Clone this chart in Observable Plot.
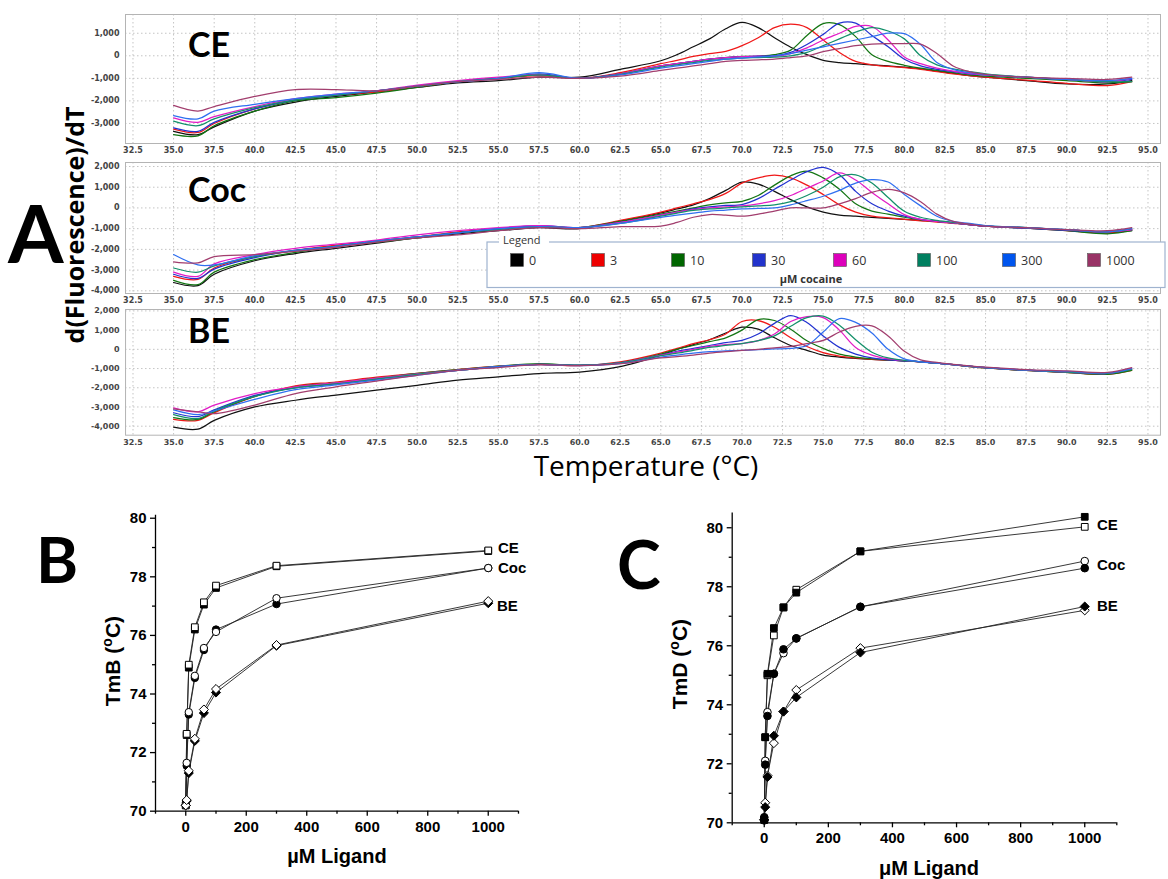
<!DOCTYPE html>
<html><head><meta charset="utf-8">
<script src="https://cdn.jsdelivr.net/npm/d3@7"></script>
<script src="https://cdn.jsdelivr.net/npm/@observablehq/plot@0.6"></script>
<style>
body{margin:0;background:#fff}
#fig{position:relative;width:1168px;height:879px;overflow:hidden;background:#fff}
#fig svg{position:absolute}
.melt g[aria-label="x-axis tick label"] text,.melt g[aria-label="y-axis tick label"] text{font-family:"DejaVu Sans";font-weight:bold;font-size:8px;fill:#444}
.tm g[aria-label="x-axis tick label"] text,.tm g[aria-label="y-axis tick label"] text{font-family:"Liberation Sans",Arial;font-weight:bold;font-size:15px;fill:#000}
</style></head><body><div id="fig"></div>
<script>
// ---------- Panel A data ----------
const T = [35, 36.5, 37.5, 40, 42.5, 45, 47.5, 50, 52.5, 55, 57.5, 60, 62.5, 65, 66, 67, 68, 69, 70, 71, 72, 73, 74, 75, 76, 77, 78, 79, 80, 81, 82, 83, 84, 85, 87.5, 90, 92.5, 94];
const concs = ["0", "3", "10", "30", "60", "100", "300", "1000"];
const concColors = ["#111111", "#f01818", "#137513", "#2232d0", "#e21cc6", "#13906a", "#2f6ff0", "#a23e6e"];
const legendColors = ["#000000", "#ee0000", "#006600", "#2233cc", "#dd00bb", "#008060", "#0055ee", "#993366"];
const xTicksA = [32.5, 35, 37.5, 40, 42.5, 45, 47.5, 50, 52.5, 55, 57.5, 60, 62.5, 65, 67.5, 70, 72.5, 75, 77.5, 80, 82.5, 85, 87.5, 90, 92.5, 95];
const yTicksCE = [1000, 0, -1000, -2000, -3000];
const yTicksCoc = [2000, 1000, 0, -1000, -2000, -3000, -4000];
const yTicksBE = [2000, 1000, 0, -1000, -2000, -3000, -4000];

const ce0 = [-3350,-3500,-3150,-2450,-2050,-1800,-1600,-1400,-1200,-1100,-950,-950, -600,-220,50,400,750,1200,1480,1250, 800,380,50,-200,-300,-350,-400,-450,-500,-580, -680,-780,-880,-950,-1100,-1250,-1250,-1100];
const ce3 = [-3250,-3400,-3000,-2350,-1950,-1750,-1600,-1380,-1150,-1000,-880,-1000, -750,-350,-200,-30,100,200,450,800, 1250,1400,1250,700,150,-250,-400,-470,-530,-600, -700,-800,-880,-950,-1080,-1220,-1320,-1150];
const ce10 = [-3500,-3550,-3100,-2450,-2000,-1850,-1650,-1400,-1150,-1000,-850,-1000, -800,-450,-350,-250,-150,-80,-30,-10, 50,250,900,1430,1380,850,50,-250,-420,-550, -650,-750,-850,-900,-1000,-1100,-1200,-1150];
const ce30 = [-3200,-3350,-2950,-2350,-1950,-1750,-1550,-1350,-1150,-1000,-800,-1000, -800,-450,-350,-250,-150,-80,-40,-20, 0,150,500,950,1450,1450,900,400,-150,-450, -600,-700,-800,-850,-950,-1050,-1150,-1050];
const ce60 = [-2750,-2950,-2700,-2250,-1900,-1700,-1550,-1300,-1100,-950,-850,-1000, -800,-450,-350,-250,-150,-80,-40,-20, -30,100,350,700,1000,1300,1300,700,-50,-350, -550,-680,-780,-850,-950,-1050,-1150,-1000];
const ce100 = [-2900,-3100,-2800,-2300,-1950,-1750,-1550,-1350,-1150,-1000,-850,-1000, -820,-500,-400,-300,-200,-150,-100,-80, -60,0,150,450,750,1050,1250,1100,750,0, -400,-580,-700,-800,-950,-1050,-1150,-1150];
const ce300 = [-2650,-2800,-2450,-2150,-1900,-1700,-1550,-1350,-1150,-1000,-750,-1000, -850,-550,-450,-350,-250,-150,-100,-50, 0,100,250,400,550,700,850,1000,980,500, -300,-600,-750,-850,-950,-1050,-1100,-1000];
const ce1000 = [-2200,-2450,-2250,-1800,-1500,-1500,-1550,-1350,-1150,-1050,-950,-1000, -900,-650,-550,-450,-350,-250,-200,-180, -150,-80,0,180,320,450,520,540,540,520, 100,-450,-700,-820,-950,-1000,-1050,-950];

const coc0 = [-3600,-3750,-3200,-2550,-2200,-1950,-1700,-1450,-1250,-1100,-950,-1000, -640,-240,-50,150,450,850,1250,1150, 800,400,50,-200,-350,-400,-450,-500,-550,-600, -650,-720,-800,-880,-950,-1080,-1200,-1100];
const coc3 = [-3300,-3450,-2900,-2350,-2050,-1800,-1600,-1400,-1150,-1000,-900,-950, -600,-200,0,200,400,700,1200,1450, 1580,1450,1100,650,150,-200,-400,-480,-550,-620, -680,-740,-800,-880,-980,-1100,-1200,-1050];
const coc10 = [-3500,-3700,-3100,-2500,-2150,-1850,-1650,-1450,-1200,-1000,-900,-950, -650,-300,-150,0,150,250,320,600, 1100,1550,1770,1450,900,200,-150,-300,-450,-580, -650,-720,-800,-880,-980,-1100,-1250,-1100];
const coc30 = [-3200,-3400,-2950,-2400,-2050,-1850,-1600,-1400,-1200,-1000,-850,-950, -700,-350,-200,-50,50,120,164,450, 900,1350,1750,1960,1600,800,200,-150,-400,-550, -650,-720,-800,-880,-980,-1080,-1150,-1050];
const coc60 = [-3100,-3300,-2700,-2250,-1950,-1750,-1550,-1300,-1100,-950,-850,-950, -700,-350,-200,-80,0,50,100,200, 350,600,950,1300,1690,1350,750,200,-320,-550, -650,-720,-800,-880,-950,-1050,-1150,-1050];
const coc100 = [-2900,-3100,-2800,-2350,-2050,-1850,-1600,-1400,-1200,-1050,-900,-950, -750,-400,-250,-120,-50,0,50,100, 150,300,600,1000,1500,1600,1200,500,-160,-450, -600,-700,-780,-860,-950,-1050,-1150,-1000];
const coc300 = [-2250,-2750,-2750,-2300,-2050,-1850,-1600,-1400,-1200,-1000,-900,-950, -750,-450,-350,-250,-150,-100,-50,-20, 0,150,350,565,850,1200,1370,1250,650,100, -400,-650,-750,-850,-950,-1050,-1150,-1000];
const coc1000 = [-2600,-2650,-2350,-2250,-2100,-1900,-1650,-1450,-1300,-1100,-950,-1000, -900,-880,-700,-450,-320,-350,-400,-300, -150,0,0,0,200,450,750,890,725,300, -300,-650,-780,-880,-950,-1050,-1100,-950];

const be0 = [-4050,-4150,-3700,-3000,-2650,-2380,-2120,-1870,-1600,-1430,-1260,-1180, -900,-300,0,250,500,850,1150,1050, 600,200,-50,-300,-400,-470,-520,-560,-600,-650, -720,-800,-880,-950,-1100,-1200,-1280,-1050];
const be3 = [-3650,-3700,-3300,-2450,-1900,-1700,-1450,-1250,-1050,-880,-800,-850, -650,-200,50,300,500,800,1450,1500, 1150,600,150,-170,-350,-450,-520,-560,-600,-650, -720,-800,-900,-970,-1100,-1200,-1300,-1100];
const be10 = [-3550,-3650,-3250,-2450,-1950,-1750,-1500,-1250,-1050,-880,-750,-830, -700,-250,0,200,400,600,1000,1550, 1500,1050,450,50,-250,-400,-500,-550,-600,-650, -720,-800,-900,-970,-1100,-1200,-1300,-1100];
const be30 = [-3300,-3500,-3150,-2400,-2000,-1800,-1550,-1300,-1100,-900,-780,-820, -700,-300,-100,50,200,350,466,800, 1350,1760,1400,700,100,-250,-450,-550,-600,-650, -720,-800,-880,-950,-1080,-1180,-1250,-1000];
const be60 = [-3050,-3250,-2900,-2300,-1950,-1750,-1500,-1280,-1080,-900,-780,-830, -700,-300,-150,0,150,250,295,450, 800,1450,1700,1650,1000,100,-300,-500,-580,-650, -720,-800,-880,-950,-1080,-1180,-1250,-1000];
const be100 = [-3400,-3600,-3200,-2450,-2000,-1800,-1550,-1300,-1100,-900,-780,-820, -700,-330,-200,-50,100,200,300,450, 700,1200,1650,1730,1250,500,-150,-450,-570,-650, -720,-800,-880,-950,-1080,-1180,-1250,-1050];
const be300 = [-3150,-3400,-3200,-2600,-2100,-1850,-1600,-1350,-1100,-900,-800,-850, -750,-400,-300,-200,-120,-80,-50,-20, 20,50,200,900,1600,1400,850,0,-500,-650, -720,-800,-880,-950,-1080,-1150,-1230,-1000];
const be1000 = [-3100,-3250,-3350,-2900,-2300,-1950,-1650,-1350,-1100,-950,-800,-850, -750,-450,-380,-300,-200,-120,-50,0, 80,150,300,466,900,1200,1220,700,-100,-550, -680,-780,-860,-930,-1050,-1120,-1200,-950];

// ---------- Panels B / C data ----------
const ligandConc = [0, 3, 10, 30, 60, 100, 300, 1000];
const bCEfilled = [70.2, 72.6, 74.9, 76.2, 77.05, 77.62, 78.36, 78.88];
const bCEopen = [70.2, 72.64, 75.0, 76.28, 77.13, 77.7, 78.38, 78.9];
const bCocFilled = [70.2, 71.55, 73.3, 74.55, 75.5, 76.2, 77.07, 78.3];
const bCocOpen = [70.2, 71.65, 73.38, 74.62, 75.57, 76.12, 77.27, 78.3];
const bBEfilled = [70.2, 70.35, 71.3, 72.4, 73.35, 74.05, 75.65, 77.1];
const bBEopen = [70.2, 70.38, 71.38, 72.47, 73.47, 74.17, 75.67, 77.17];

const cCEfilled = [70.1, 72.9, 75.05, 76.6, 77.3, 77.8, 79.2, 80.37];
const cCEopen = [70.1, 72.9, 75.0, 76.35, 77.3, 77.9, 79.2, 80.03];
const cCocFilled = [70.19, 71.97, 73.62, 75.05, 75.88, 76.25, 77.32, 78.63];
const cCocOpen = [70.08, 72.1, 73.75, 75.05, 75.75, 76.25, 77.32, 78.87];
const cBEfilled = [70.1, 70.53, 71.55, 72.95, 73.77, 74.25, 75.77, 77.33];
const cBEopen = [70.1, 70.68, 71.6, 72.7, 73.77, 74.5, 75.92, 77.2];

const xMajorTm = [0, 200, 400, 600, 800, 1000];
const xMinorTm = [-100, 100, 300, 500, 700, 900, 1100];
const yMajorTm = [70, 72, 74, 76, 78, 80];
const yMinorTm = [71, 73, 75, 77, 79];

const fig = document.getElementById("fig");
const fmtY = d => (d < 0 ? "-" : "") + d3.format(",")(Math.abs(d));

function meltPanel(series, yDomain, yTicks, frameTop, frameH) {
  const rows = [];
  series.forEach((vals, i) => vals.forEach((v, j) => rows.push({T: T[j], v, c: concs[i]})));
  const mt = 5, mb = 14;
  const p = Plot.plot({
    width: 1168, height: mt + frameH + mb,
    marginLeft: 125, marginRight: 8, marginTop: mt, marginBottom: mb,
    style: {background: "transparent", overflow: "visible"},
    x: {domain: [32.04, 95.77], label: null},
    y: {domain: yDomain, label: null},
    color: {domain: concs, range: concColors},
    marks: [
      Plot.gridX(xTicksA, {stroke: "#c4c4c4", strokeOpacity: 1, strokeDasharray: "1.5,2.5"}),
      Plot.gridY(yTicks, {stroke: "#c4c4c4", strokeOpacity: 1, strokeDasharray: "1.5,2.5"}),
      Plot.line(rows, {x: "T", y: "v", z: "c", stroke: "c", strokeWidth: 1.25, curve: "catmull-rom"}),
      Plot.frame({stroke: "#b4b4b4"}),
      Plot.axisX(xTicksA, {tickSize: 0, tickPadding: 4, tickFormat: d3.format(".1f"), label: null}),
      Plot.axisY(yTicks, {tickSize: 0, tickPadding: 6, tickFormat: fmtY, label: null})
    ]
  });
  p.classList.add("melt");
  p.style.left = "0px";
  p.style.top = (frameTop - mt) + "px";
  fig.append(p);
}

meltPanel([ce0, ce3, ce10, ce30, ce60, ce100, ce300, ce1000], [-3889, 1831], yTicksCE, 14, 129);
meltPanel([coc0, coc3, coc10, coc30, coc60, coc100, coc300, coc1000], [-4130, 2193], yTicksCoc, 161.7, 131);
meltPanel([be0, be3, be10, be30, be60, be100, be300, be1000], [-4468, 2073], yTicksBE, 309.3, 125.7);

function tmPanel(opts) {
  const {left, top, mLeft, mTop, frameW, frameH, yDomain, groups, filledOnTop} = opts;
  const mb = 40, mr = 12;
  const marks = [
    Plot.ruleX([-100], {stroke: "#000", strokeWidth: 1.3}),
    Plot.ruleY([70], {stroke: "#000", strokeWidth: 1.3}),
    Plot.axisY(yMajorTm, {tickSize: 5, tickPadding: 4, strokeWidth: 1.3, tickFormat: d => String(d), label: null}),
    Plot.axisY(yMinorTm, {tickSize: 3, tickFormat: () => "", strokeWidth: 1.3, label: null}),
    Plot.axisX(xMajorTm, {tickSize: 5, tickPadding: 5, strokeWidth: 1.3, tickFormat: d => String(d), label: null}),
    Plot.axisX(xMinorTm, {tickSize: 3, tickFormat: () => "", strokeWidth: 1.3, label: null})
  ];
  const lineMarks = [], dotFilled = [], dotOpen = [];
  groups.forEach(g => {
    const f = ligandConc.map((x, i) => ({x, y: g.filled[i]}));
    const o = ligandConc.map((x, i) => ({x, y: g.open[i]}));
    lineMarks.push(Plot.line(f, {x: "x", y: "y", stroke: "#222", strokeWidth: 0.9}));
    lineMarks.push(Plot.line(o, {x: "x", y: "y", stroke: "#222", strokeWidth: 0.9}));
    dotFilled.push(Plot.dot(f, {x: "x", y: "y", symbol: g.symbol, r: g.r, fill: "#000", stroke: "#000", strokeWidth: 1}));
    dotOpen.push(Plot.dot(o, {x: "x", y: "y", symbol: g.symbol, r: g.r, fill: "#fff", stroke: "#000", strokeWidth: 1}));
  });
  marks.push(...lineMarks);
  if (filledOnTop) marks.push(...dotOpen, ...dotFilled); else marks.push(...dotFilled, ...dotOpen);
  const p = Plot.plot({
    width: mLeft + frameW + mr, height: mTop + frameH + mb,
    marginLeft: mLeft, marginRight: mr, marginTop: mTop, marginBottom: mb,
    style: {background: "transparent", overflow: "visible"},
    x: {domain: [-100, 1100], label: null},
    y: {domain: yDomain, label: null},
    marks
  });
  p.classList.add("tm");
  p.style.left = left + "px";
  p.style.top = top + "px";
  fig.append(p);
}

tmPanel({left: 60, top: 500, mLeft: 95, mTop: 14.8, frameW: 363, frameH: 295.9, yDomain: [70, 80.1], filledOnTop: false,
  groups: [
    {filled: bCEfilled, open: bCEopen, symbol: "square", r: 3.8},
    {filled: bCocFilled, open: bCocOpen, symbol: "circle", r: 3.7},
    {filled: bBEfilled, open: bBEopen, symbol: "diamond2", r: 4.1}
  ]});
tmPanel({left: 640, top: 495, mLeft: 91.7, mTop: 17.5, frameW: 384.6, frameH: 309.8, yDomain: [70, 80.5], filledOnTop: true,
  groups: [
    {filled: cCEfilled, open: cCEopen, symbol: "square", r: 3.8},
    {filled: cCocFilled, open: cCocOpen, symbol: "circle", r: 3.8},
    {filled: cBEfilled, open: cBEopen, symbol: "diamond2", r: 4.1}
  ]});

// ---------- Overlay text & legend ----------
const ov = d3.select(fig).append("svg").attr("width", 1168).attr("height", 879).style("left", "0px").style("top", "0px");
function txt(x, y, s, o = {}) {
  const t = ov.append("text").attr("x", x).attr("y", y).text(s)
    .attr("font-family", o.family || "Lato").attr("font-size", o.size || 12)
    .attr("font-weight", o.weight || "normal").attr("fill", o.fill || "#000")
    .attr("text-anchor", o.anchor || "start");
  if (o.rotate) t.attr("transform", `rotate(${o.rotate},${x},${y})`);
  return t;
}
txt(8, 263, "A", {size: 80, weight: "bold"});
txt(188, 57, "CE", {size: 34, weight: "bold"});
txt(188, 202, "Coc", {size: 34, weight: "bold"});
txt(188, 343, "BE", {size: 34, weight: "bold"});
txt(84, 225, "d(Fluorescence)/dT", {size: 25, weight: "bold", anchor: "middle", rotate: -90, family: "Open Sans"});
txt(646, 476, "Temperature (°C)", {size: 28, anchor: "middle", family: "Open Sans"});

// legend
ov.append("rect").attr("x", 487).attr("y", 242).attr("width", 678).attr("height", 45.5).attr("fill", "#fff").attr("stroke", "#9fb3cf").attr("stroke-width", 1.2);
ov.append("rect").attr("x", 499).attr("y", 236).attr("width", 50).attr("height", 10).attr("fill", "#fff");
txt(503, 243.5, "Legend", {size: 11, fill: "#333", family: "Open Sans"});
const legendX = [517, 598, 678, 759, 840, 924, 1009, 1094];
concs.forEach((c, i) => {
  ov.append("rect").attr("x", legendX[i] - 6.5).attr("y", 253.5).attr("width", 13).attr("height", 13)
    .attr("fill", legendColors[i]).attr("stroke", "#555").attr("stroke-width", 0.6);
  txt(legendX[i] + 12, 265, c, {size: 12.5, fill: "#333", family: "Open Sans"});
});
txt(811, 283, "µM cocaine", {size: 11, weight: "bold", fill: "#333", family: "Open Sans", anchor: "middle"});

// panels B / C text
const af = "Liberation Sans";
txt(36, 583, "B", {size: 64, weight: "bold"});
txt(617, 589, "C", {size: 66, weight: "bold"});
function ylab(x, y, main) {
  const t = ov.append("text").attr("x", x).attr("y", y).attr("font-family", af).attr("font-size", 21).attr("font-weight", "bold")
    .attr("text-anchor", "middle").attr("transform", `rotate(-90,${x},${y})`);
  t.append("tspan").text(main + " (");
  t.append("tspan").text("o").attr("font-size", 14).attr("dy", -8);
  t.append("tspan").text("C)").attr("dy", 8);
}
ylab(120, 661, "TmB");
ylab(687, 664, "TmD");
txt(337, 863, "µM Ligand", {family: af, size: 20, weight: "bold", anchor: "middle"});
txt(929, 875, "μM Ligand", {family: af, size: 20, weight: "bold", anchor: "middle"});
txt(498, 553, "CE", {family: af, size: 15, weight: "bold"});
txt(498, 573, "Coc", {family: af, size: 15, weight: "bold"});
txt(497, 611, "BE", {family: af, size: 15, weight: "bold"});
txt(1097, 530, "CE", {family: af, size: 15, weight: "bold"});
txt(1097, 570, "Coc", {family: af, size: 15, weight: "bold"});
txt(1097, 611, "BE", {family: af, size: 15, weight: "bold"});
</script></body></html>
